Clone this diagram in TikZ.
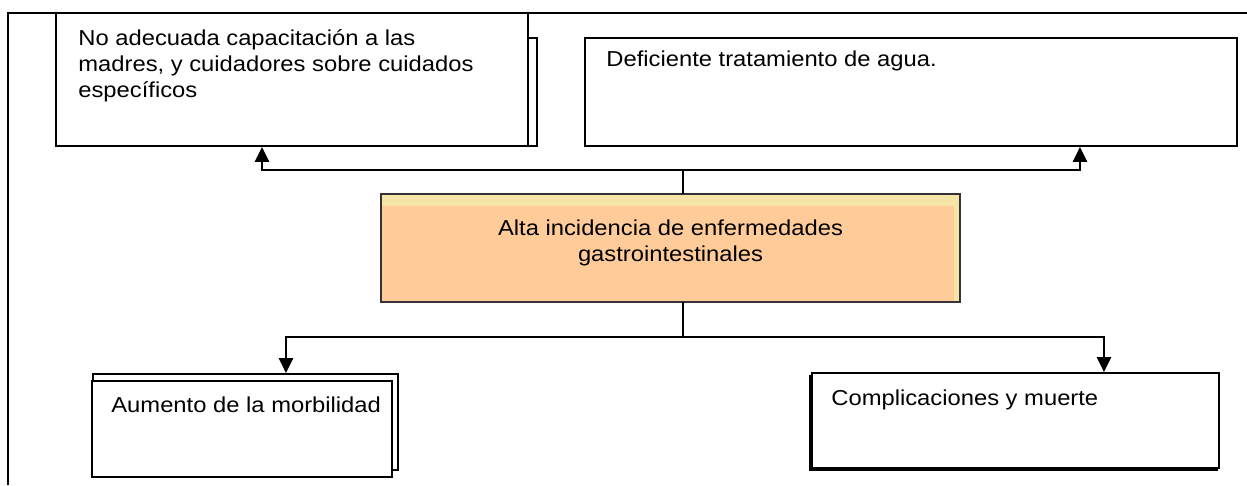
\documentclass[tikz,border=0pt]{standalone}
\usepackage{fontspec}
\setmainfont{Liberation Sans}[FakeStretch=1.10]
\usepackage{xcolor}
\usepackage{tikz}
\usetikzlibrary{arrows.meta,positioning,calc,fit}

\definecolor{peach}{RGB}{255,204,153}
\definecolor{strip}{RGB}{244,228,166}

\begin{document}
\begin{tikzpicture}[
    x=0.02cm, y=-0.02cm, box/.style={rectangle, draw, line width=1.1pt, fill=white, inner sep=0pt}, lbl/.style={anchor=base west, inner sep=0pt, align=left, font=\fontsize{12.3}{14.7}\selectfont}, arrow/.style={-{Triangle[length=0.3cm, width=0.29cm]}, line width=0.85pt}
]
\useasboundingbox (0,0) rectangle (1247,485);
% outer frame
\draw[line width=1.1pt] (8,485) -- (8,13) -- (1247,13);
% causes
\node[box, fit={(66,38) (537,146)}] (capb) {};
\node[box, fit={(56,13) (528,146)}] (cap) {};
\node[box, fit={(585,38) (1237,146)}] (agua) {};
\node[lbl] (captxt) at ($(cap.north west)+(23,85.6)$) {No adecuada capacitación a las\\madres, y cuidadores sobre cuidados\\específicos};
\node[lbl] (aguatxt) at ($(agua.north west)+(22,29)$) {Deficiente tratamiento de agua.};
% problem
\node[fit={(381,194) (960,302)}, inner sep=0pt, fill=strip] (alta) {};
\fill[peach] ($(alta.north west)+(0,12)$) rectangle ($(alta.south east)+(-6,0)$);
\draw[line width=1pt, black!80] (alta.north west) rectangle (alta.south east);
\node[lbl, anchor=base, align=center] (altatxt) at ($(alta.north)+(0,68)$) {Alta incidencia de enfermedades\\gastrointestinales};
% effects
\node[box, fit={(93,374) (398,470)}] (morbb) {};
\node[box, fit={(92,381) (392,477)}] (morb) {};
\node[box, line width=0.8pt, fit={(810,376) (1217,470)}] (compb) {};
\node[box, fit={(812,373) (1219,468)}] (comp) {};
\node[lbl] (morbtxt) at ($(morb.north west)+(20,32)$) {Aumento de la morbilidad};
\node[lbl] (comptxt) at ($(comp.north west)+(20,33)$) {Complicaciones y muerte};
% connectors
\coordinate (up) at (683,170);
\coordinate (dn) at (683,337);
\draw[line width=0.85pt] (alta.north -| up) -- (up);
\draw[arrow] (up) -| ([xshift=-0.6cm]cap.south);
\draw[arrow] (up) -| ([xshift=3.38cm]agua.south);
\draw[line width=0.85pt] (alta.south -| dn) -- (dn);
\draw[arrow] (dn) -| ([xshift=0.81cm]morbb.north);
\draw[arrow] (dn) -| ([xshift=1.77cm]comp.north);
\end{tikzpicture}
\end{document}
